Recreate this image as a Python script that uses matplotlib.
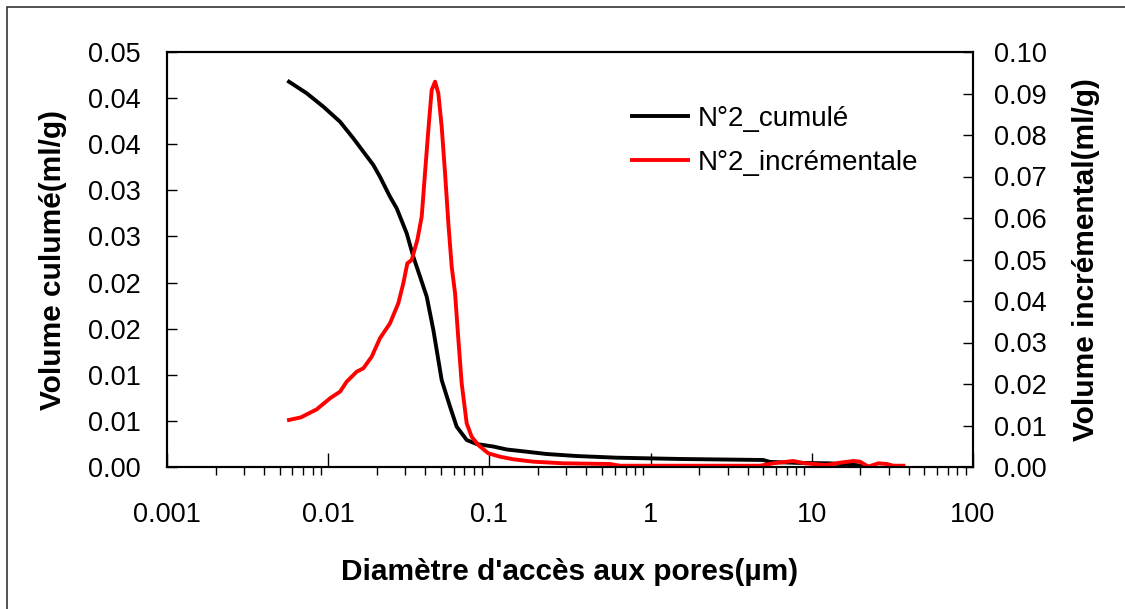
import matplotlib
matplotlib.use("Agg")
import matplotlib.pyplot as plt
from matplotlib.ticker import FixedLocator, FixedFormatter, LogLocator, NullFormatter
from matplotlib.patches import Rectangle

plt.rcParams['font.family'] = ['Liberation Sans', 'DejaVu Sans']

# Cumulative volume (left axis)
cum_d = [0.00571, 0.00637, 0.00736, 0.00933, 0.01184, 0.01432, 0.01652, 0.01905, 0.02094,
         0.02417, 0.0266, 0.03069, 0.03374, 0.03715, 0.04085, 0.04491, 0.05058, 0.0570,
         0.06268, 0.07229, 0.08336, 0.1057, 0.128, 0.170, 0.226, 0.348, 0.616, 1.52, 5.0,
         5.5, 8.0, 12.97, 18.97, 22.0]
cum_v = [0.04178, 0.04124, 0.04052, 0.03907, 0.03744, 0.03564, 0.03419, 0.03275, 0.03148,
         0.02931, 0.02805, 0.02534, 0.02280, 0.02063, 0.01847, 0.01486, 0.00943, 0.00654,
         0.00437, 0.00293, 0.00249, 0.00222, 0.00190, 0.00166, 0.00141, 0.00119, 0.00101,
         0.00087, 0.00076, 0.00055, 0.00045, 0.00040, 0.00020, 0.00005]

# Incremental volume (right axis)
inc_d = [0.00571, 0.00678, 0.00849, 0.01026, 0.01184, 0.01302, 0.01503, 0.01652, 0.01862,
         0.02094, 0.02417, 0.02722, 0.02924, 0.03097, 0.03296, 0.03572, 0.03802, 0.03985,
         0.04180, 0.04385, 0.04602, 0.04823, 0.05058, 0.05308, 0.05564, 0.05836, 0.06124,
         0.06423, 0.06730, 0.07229, 0.07762, 0.0853, 0.0984, 0.1164, 0.1406, 0.1875, 0.288,
         0.560, 0.646, 4.77, 5.77, 7.67, 9.07, 12.36, 14.96, 18.1, 19.9, 22.4, 25.9, 29.2,
         32.1, 37.0]
inc_v = [0.01133, 0.01197, 0.01390, 0.01655, 0.01815, 0.02056, 0.02297, 0.02378, 0.02659,
         0.03101, 0.03462, 0.03945, 0.04427, 0.04908, 0.04988, 0.05470, 0.06032, 0.07077,
         0.08120, 0.09084, 0.09285, 0.09004, 0.08200, 0.07077, 0.05872, 0.04827, 0.04185,
         0.03060, 0.02017, 0.01053, 0.00730, 0.00530, 0.00330, 0.00248, 0.00186, 0.00128,
         0.00089, 0.00072, 0.00031, 0.00031, 0.00089, 0.00145, 0.00089, 0.00048, 0.00104,
         0.00145, 0.00128, 0.00010, 0.00089, 0.00072, 0.00031, 0.00031]

left_ticks = [0.0, 0.005, 0.01, 0.015, 0.02, 0.025, 0.03, 0.035, 0.04, 0.045]
left_labels = ['0.00', '0.01', '0.01', '0.02', '0.02', '0.03', '0.03', '0.04', '0.04', '0.05']
right_ticks = [0.0, 0.01, 0.02, 0.03, 0.04, 0.05, 0.06, 0.07, 0.08, 0.09, 0.10]
right_labels = ['0.00', '0.01', '0.02', '0.03', '0.04', '0.05', '0.06', '0.07', '0.08', '0.09', '0.10']
x_ticks = [0.001, 0.01, 0.1, 1, 10, 100]
x_labels = ['0.001', '0.01', '0.1', '1', '10', '100']

fig = plt.figure(figsize=(11.25, 6.09), dpi=100)
fig.patches.append(Rectangle((7/1125, -0.1), 1.2, 1 - 7/609 + 0.1, transform=fig.transFigure,
                             fill=False, edgecolor='#333333', linewidth=1.2))
ax = fig.add_axes([167/1125, 1 - 467/609, (973 - 167)/1125, (467 - 52)/609])
ax2 = ax.twinx()

l1, = ax.plot(cum_d, cum_v, color='black', lw=2.8, label='N°2_cumulé')
l2, = ax2.plot(inc_d, inc_v, color='#ff0000', lw=2.8, label='N°2_incrémentale')

ax.set_xscale('log')
ax.set_xlim(0.001, 100)
ax.set_ylim(0, 0.045)
ax2.set_ylim(0, 0.10)

ax.xaxis.set_major_locator(FixedLocator(x_ticks))
ax.xaxis.set_major_formatter(FixedFormatter(x_labels))
ax.xaxis.set_minor_locator(LogLocator(base=10, subs=range(2, 10), numticks=20))
ax.xaxis.set_minor_formatter(NullFormatter())
ax.yaxis.set_major_locator(FixedLocator(left_ticks))
ax.yaxis.set_major_formatter(FixedFormatter(left_labels))
ax2.yaxis.set_major_locator(FixedLocator(right_ticks))
ax2.yaxis.set_major_formatter(FixedFormatter(right_labels))

fs = 19.5
ax.tick_params(axis='x', which='major', direction='in', length=10, width=1, pad=25, labelsize=fs)
ax.tick_params(axis='x', which='minor', direction='out', length=6, width=1)
ax.tick_params(axis='y', which='major', direction='in', length=7, width=1, pad=19, labelsize=fs)
ax2.tick_params(axis='y', which='major', direction='in', length=7, width=1, pad=15, labelsize=fs)

for a in (ax, ax2):
    for s in a.spines.values():
        s.set_linewidth(1.5)
        s.set_color('black')

ax.set_xlabel("Diamètre d'accès aux pores(µm)", fontsize=21.5, fontweight='bold', labelpad=22)
ax.set_ylabel('Volume culumé(ml/g)', fontsize=21.5, fontweight='bold', labelpad=15)
ax2.set_ylabel('Volume incrémental(ml/g)', fontsize=21.5, fontweight='bold', labelpad=18)

ax.legend(handles=[l1, l2], loc='upper left', bbox_to_anchor=(0.577, 0.871), frameon=False,
          fontsize=20, handlelength=2.0, handletextpad=0.35, labelspacing=0.67, borderpad=0,
          borderaxespad=0)

fig.savefig('out.png', dpi=100)
